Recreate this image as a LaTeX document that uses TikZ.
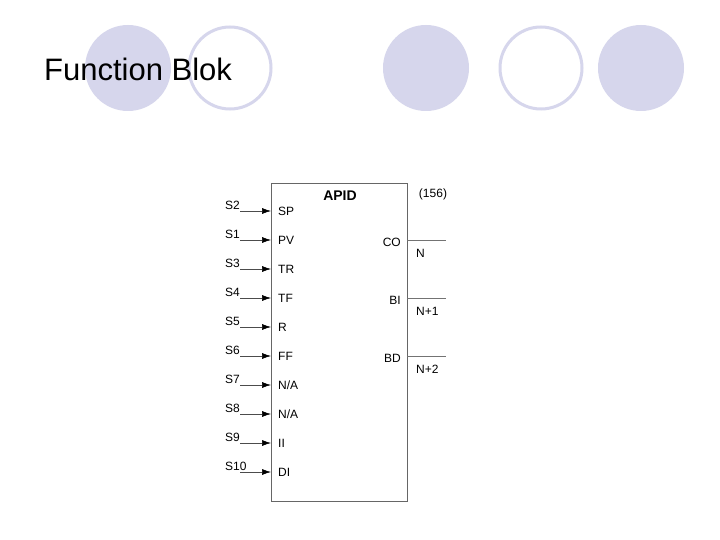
\documentclass[tikz,border=0pt]{standalone}
\usepackage{fontspec}
\setmainfont{Liberation Sans}
\definecolor{lav}{RGB}{214,214,236}
\begin{document}
\begin{tikzpicture}[x=1pt,y=-1pt,
  fill circ/.style={circle,fill=lav,minimum size=86pt,inner sep=0pt},
  ring circ/.style={circle,draw=lav,line width=3pt,fill=white,minimum size=82pt,inner sep=0pt},
  lbl/.style={font=\fontsize{12}{12}\selectfont,inner sep=0pt},
  inarrow/.style={draw=black!70,line width=0.6pt,-{Latex[length=9pt,width=6pt,black]}},
  outline/.style={draw=black!55,line width=0.6pt}]
\usetikzlibrary{arrows.meta}
\useasboundingbox (0,0) rectangle (720,540);
\fill[white] (0,0) rectangle (720,540);
\node[fill circ] (c1) at (128,68) {};
\node[ring circ] (c2) at (230,68) {};
\node[fill circ] (c3) at (426,68) {};
\node[ring circ] (c4) at (541,68) {};
\node[fill circ] (c5) at (641,68) {};
\node[anchor=west,inner sep=0pt,font=\fontsize{31}{31}\selectfont] (title) at (44,69) {Function Blok};
\node[draw=black!60,line width=0.7pt,minimum width=136pt,minimum height=318pt,anchor=north west,inner sep=0pt] (blk) at (271,183) {};
\node[font=\bfseries\fontsize{14}{14}\selectfont] (nm) at (340,196) {APID};
\node[lbl] (num) at (433,194) {(156)};
\foreach \i/\s/\p in {0/S2/SP,1/S1/PV,2/S3/TR,3/S4/TF,4/S5/R,5/S6/FF,6/S7/N\slash A,7/S8/N\slash A,8/S9/II,9/S10/DI}{
  \coordinate (in\i) at (240,211+29*\i);
  \coordinate (ine\i) at (271,211+29*\i);
  \draw[inarrow] (in\i) -- (ine\i);
  \node[lbl,anchor=west] (s\i) at (225,205+29*\i) {\s};
  \node[lbl,anchor=west] (p\i) at (278,211+29*\i) {\p};
}
\foreach \i/\o/\n in {0/CO/N,1/BI/N+1,2/BD/N+2}{
  \coordinate (os\i) at (407,240+58*\i);
  \coordinate (oe\i) at (446,240+58*\i);
  \draw[outline] (os\i) -- (oe\i);
  \node[lbl,anchor=east] (o\i) at (401,242+58*\i) {\o};
  \node[lbl,anchor=west] (n\i) at (416,253+58*\i) {\n};
}
\end{tikzpicture}
\end{document}
